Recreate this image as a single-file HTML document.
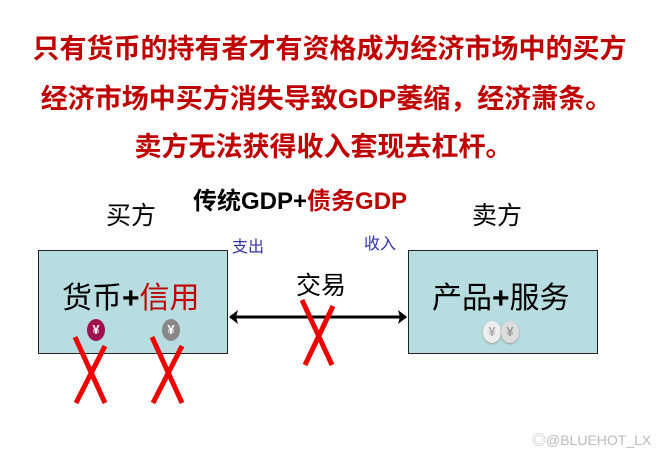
<!DOCTYPE html><html><head><meta charset="utf-8"><style>
body{margin:0;width:659px;height:460px;background:#fff;position:relative;overflow:hidden;font-family:"Liberation Sans","Noto Sans CJK SC",sans-serif}
.a{position:absolute;white-space:nowrap}
.t{color:#c00000;font-weight:bold;font-size:27px;left:0;width:659px;text-align:center}
.box{position:absolute;background:#b7dde1;border:1.5px solid #222;width:188px;height:102px;top:250px}
.coin{position:absolute;width:18px;height:22px;border-radius:50%;color:#fff;font-size:13px;font-weight:bold;text-align:center;line-height:22px}
</style></head><body>
<div class="a t" style="top:27px">只有货币的持有者才有资格成为经济市场中的买方</div>
<div class="a t" style="top:77px;left:-3px">经济市场中买方消失导致GDP萎缩，经济萧条。</div>
<div class="a t" style="top:125px;left:-6px">卖方无法获得收入套现去杠杆。</div>
<div class="a" style="left:106px;top:196px;font-size:25px">买方</div>
<div class="a" style="left:472px;top:196px;font-size:25px">卖方</div>
<div class="a" style="left:193px;top:181px;font-size:24px;font-weight:bold">传统GDP+<span style="color:#c00000">债务GDP</span></div>
<div class="a" style="left:232px;top:233px;font-size:16px;color:#3333aa">支出</div>
<div class="a" style="left:364px;top:230px;font-size:16px;color:#3333aa">收入</div>
<div class="a" style="left:296px;top:266px;font-size:25px">交易</div>
<div class="box" style="left:38px"></div>
<div class="box" style="left:408px"></div>
<div class="a" style="left:62px;top:273px;font-size:30px">货币<b>+</b><span style="color:#c00000">信用</span></div>
<div class="a" style="left:432px;top:273px;font-size:30px">产品<b>+</b>服务</div>
<div class="coin" style="left:87px;top:319px;background:#a0104c">¥</div>
<div class="coin" style="left:162px;top:319px;background:#888">¥</div>
<div class="coin" style="left:483px;top:321px;background:#eee;color:#aaa;box-shadow:0 1px 2px #999">¥</div>
<div class="coin" style="left:501px;top:321px;background:#ddd;color:#999;box-shadow:0 1px 2px #999">¥</div>
<svg class="a" style="left:0;top:0" width="659" height="460">
<line x1="230" y1="317" x2="406" y2="317" stroke="#000" stroke-width="3"/>
<path d="M229,317 L238,310 L236,317 L238,324 Z M407,317 L398,310 L400,317 L398,324 Z" fill="#000"/>
<g stroke="#e00" stroke-width="5" fill="none">
<path d="M75,337 L105,403 M105,346 L76,403"/>
<path d="M152,337 L182,403 M182,346 L153,403"/>
<path d="M302,300 L332,365 M333,306 L305,365"/>
</g></svg>
<div class="a" style="left:532px;top:430px;font-size:14px;color:#bbb">◎@BLUEHOT_LX</div>
</body></html>
